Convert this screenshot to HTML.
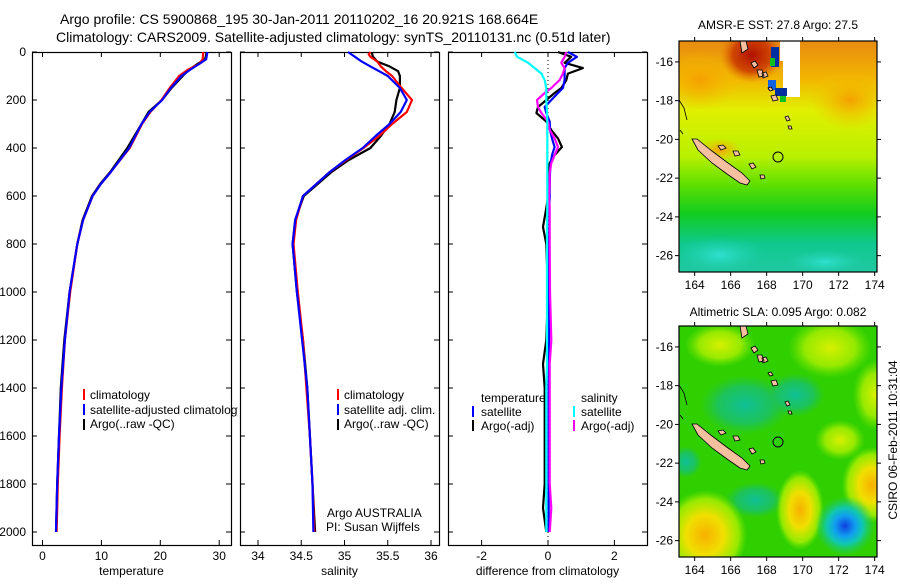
<!DOCTYPE html>
<html><head><meta charset="utf-8">
<style>
html,body{margin:0;padding:0;background:#fff;}
body{width:900px;height:580px;overflow:hidden;font-family:"Liberation Sans",sans-serif;}
svg text{font-family:"Liberation Sans",sans-serif;fill:#000;}
</style></head>
<body>
<svg id="fig" width="900" height="580" viewBox="0 0 900 580" xmlns="http://www.w3.org/2000/svg">
<defs>
<linearGradient id="sstg" x1="0" y1="0" x2="0" y2="1">
<stop offset="0" stop-color="#e88a10"/><stop offset="0.17" stop-color="#f2b800"/><stop offset="0.3" stop-color="#e0f000"/>
<stop offset="0.5" stop-color="#b8f000"/><stop offset="0.62" stop-color="#60e000"/><stop offset="0.75" stop-color="#10cc20"/>
<stop offset="0.88" stop-color="#10c890"/><stop offset="1" stop-color="#20c8a0"/></linearGradient>
<radialGradient id="redblob"><stop offset="0" stop-color="#b01000"/><stop offset="0.6" stop-color="#c83000" stop-opacity="0.8"/><stop offset="1" stop-color="#e07000" stop-opacity="0"/></radialGradient>
<radialGradient id="orblob"><stop offset="0" stop-color="#f5a000"/><stop offset="1" stop-color="#f5c000" stop-opacity="0"/></radialGradient>
<radialGradient id="cyblob"><stop offset="0" stop-color="#30e0d0"/><stop offset="1" stop-color="#20d0b0" stop-opacity="0"/></radialGradient>
<radialGradient id="yelblob"><stop offset="0" stop-color="#f8b000"/><stop offset="0.45" stop-color="#f0e000"/><stop offset="0.8" stop-color="#b0f000" stop-opacity="0.8"/><stop offset="1" stop-color="#80e800" stop-opacity="0"/></radialGradient>
<radialGradient id="ltblob"><stop offset="0" stop-color="#d8f000"/><stop offset="0.6" stop-color="#b0f000" stop-opacity="0.8"/><stop offset="1" stop-color="#80e800" stop-opacity="0"/></radialGradient>
<radialGradient id="tealblob"><stop offset="0" stop-color="#10c098"/><stop offset="0.6" stop-color="#18c070" stop-opacity="0.8"/><stop offset="1" stop-color="#20c050" stop-opacity="0"/></radialGradient>
<radialGradient id="blueblob"><stop offset="0" stop-color="#1040e0"/><stop offset="0.35" stop-color="#10a0f0"/><stop offset="0.6" stop-color="#10c8b0"/><stop offset="1" stop-color="#20c860" stop-opacity="0"/></radialGradient>
<clipPath id="clipTop"><rect x="679" y="41" width="198" height="231"/></clipPath>
<clipPath id="clipBot"><rect x="679" y="326" width="198" height="231"/></clipPath>
<clipPath id="clipLeg1"><rect x="32" y="380" width="206" height="60"/></clipPath>
</defs>

<text x="60" y="24" font-size="14">Argo profile: CS 5900868_195 30-Jan-2011 20110202_16 20.921S 168.664E</text>
<text x="56" y="42" font-size="14">Climatology: CARS2009. Satellite-adjusted climatology: synTS_20110131.nc (0.51d later)</text>

<g id="p1"></g>
<g id="p2"></g>
<g id="p3"></g>

<g font-size="12" clip-path="url(#clipLeg1)">
<rect x="83" y="389" width="2" height="11" fill="#f00"/><text x="90" y="399">climatology</text>
<rect x="83" y="404" width="2" height="11" fill="#00f"/><text x="90" y="414">satellite-adjusted climatology</text>
<rect x="83" y="419" width="2" height="11" fill="#000"/><text x="90" y="428">Argo(..raw -QC)</text>
</g>
<g font-size="12">
<rect x="337" y="389" width="2" height="11" fill="#f00"/><text x="344" y="399">climatology</text>
<rect x="337" y="404" width="2" height="11" fill="#00f"/><text x="344" y="414">satellite adj. clim.</text>
<rect x="337" y="419" width="2" height="11" fill="#000"/><text x="344" y="428">Argo(..raw -QC)</text>
<text x="327" y="517">Argo AUSTRALIA</text>
<text x="326" y="531">PI: Susan Wijffels</text>
</g>
<g font-size="12">
<text x="481" y="402">temperature</text>
<rect x="472" y="406" width="2" height="11" fill="#00f"/><text x="481" y="416">satellite</text>
<rect x="472" y="420" width="2" height="11" fill="#000"/><text x="481" y="430">Argo(-adj)</text>
<text x="581" y="402">salinity</text>
<rect x="573" y="406" width="2" height="11" fill="#0ff"/><text x="581" y="416">satellite</text>
<rect x="573" y="420" width="2" height="11" fill="#f0f"/><text x="581" y="430">Argo(-adj)</text>
</g>

<text x="778" y="29" font-size="12" text-anchor="middle">AMSR-E SST: 27.8 Argo: 27.5</text>
<g clip-path="url(#clipTop)">
<rect x="679" y="41" width="198" height="231" fill="url(#sstg)"/>
<ellipse cx="850" cy="100" rx="40" ry="30" fill="url(#orblob)"/>
<ellipse cx="700" cy="80" rx="40" ry="30" fill="url(#orblob)"/>
<ellipse cx="752" cy="55" rx="32" ry="28" fill="url(#redblob)"/>
<ellipse cx="720" cy="150" rx="22" ry="12" fill="url(#orblob)"/>
<ellipse cx="720" cy="255" rx="45" ry="18" fill="url(#cyblob)"/>
<ellipse cx="825" cy="262" rx="40" ry="12" fill="url(#cyblob)"/>
<rect x="780" y="41" width="20" height="20" fill="#fff"/>
<rect x="783" y="55" width="17" height="42" fill="#fff"/>
<rect x="771" y="47" width="8" height="20" fill="#0030a0"/>
<rect x="770" y="58" width="5" height="8" fill="#10c020"/>
<rect x="768" y="80" width="8" height="10" fill="#1060e0"/>
<rect x="775" y="88" width="12" height="8" fill="#0030a0"/>
<rect x="780" y="96" width="6" height="6" fill="#10c020"/>
</g>
<g clip-path="url(#clipTop)">
<g fill="#f5c0a0" stroke="#000" stroke-width="0.8">
<polygon points="692,139 697,139 712,151 728,163 742,173 750,181 747,185 740,183 727,174 712,163 698,150"/>
<path d="M740,41 l6,0 l2,8 l-6,4 z M751,63 l4,-2 l3,4 l-4,3 z M757,70 l5,0 l2,6 l-5,1 z M762,73 l4,-1 l2,4 l-5,2z M768,88 l3,-1 l2,3 l-3,1z M771,96 l5,-1 l2,5 l-5,1z M718,146 l5,-1 l3,3 l-5,2z M733,151 l5,0 l2,4 l-5,1z M749,164 l4,-1 l3,4 l-4,2z M760,175 l4,0 l1,3 l-4,1z M785,117 l3,-1 l2,4 l-3,1z M788,126 l3,0 l1,3 l-3,0z"/>
<path d="M679,100 l5,8 l3,12 M680,130 l3,4" fill="none"/>
</g>
</g>
<circle cx="778" cy="157" r="5" fill="none" stroke="#000"/>
<g id="m1ax"></g>

<text x="778" y="316" font-size="12" text-anchor="middle">Altimetric SLA: 0.095 Argo: 0.082</text>
<g clip-path="url(#clipBot)">
<rect x="679" y="326" width="198" height="231" fill="#30d000"/>
<ellipse cx="720" cy="345" rx="35" ry="22" fill="url(#ltblob)"/>
<ellipse cx="830" cy="348" rx="42" ry="30" fill="url(#ltblob)"/>
<ellipse cx="875" cy="395" rx="22" ry="35" fill="url(#ltblob)"/>
<ellipse cx="840" cy="440" rx="25" ry="20" fill="url(#ltblob)"/>
<ellipse cx="745" cy="405" rx="45" ry="30" fill="url(#tealblob)"/>
<ellipse cx="795" cy="395" rx="30" ry="22" fill="url(#tealblob)"/>
<ellipse cx="755" cy="500" rx="30" ry="18" fill="url(#tealblob)"/>
<ellipse cx="705" cy="535" rx="42" ry="45" fill="url(#yelblob)"/>
<ellipse cx="800" cy="510" rx="24" ry="40" fill="url(#yelblob)"/>
<ellipse cx="872" cy="485" rx="30" ry="38" fill="url(#yelblob)"/>
<ellipse cx="845" cy="526" rx="30" ry="30" fill="url(#blueblob)"/>
<ellipse cx="686" cy="462" rx="16" ry="16" fill="url(#tealblob)"/>
</g>
<g clip-path="url(#clipBot)">
<g fill="#f5c0a0" stroke="#000" stroke-width="0.8" transform="translate(0,285)">
<polygon points="692,139 697,139 712,151 728,163 742,173 750,181 747,185 740,183 727,174 712,163 698,150"/>
<path d="M740,41 l6,0 l2,8 l-6,4 z M751,63 l4,-2 l3,4 l-4,3 z M757,70 l5,0 l2,6 l-5,1 z M762,73 l4,-1 l2,4 l-5,2z M768,88 l3,-1 l2,3 l-3,1z M771,96 l5,-1 l2,5 l-5,1z M718,146 l5,-1 l3,3 l-5,2z M733,151 l5,0 l2,4 l-5,1z M749,164 l4,-1 l3,4 l-4,2z M760,175 l4,0 l1,3 l-4,1z M785,117 l3,-1 l2,4 l-3,1z M788,126 l3,0 l1,3 l-3,0z"/>
<path d="M679,100 l5,8 l3,12 M680,130 l3,4" fill="none"/>
</g>
</g>
<circle cx="778" cy="442" r="5" fill="none" stroke="#000"/>
<g id="m2ax"></g>

<text transform="translate(897,440) rotate(-90)" font-size="12" text-anchor="middle">CSIRO 06-Feb-2011 10:31:04</text>
</svg>

<script>
const tDepth = [0,30,50,75,100,150,200,250,300,400,500,550,600,700,800,1000,1200,1400,1600,1800,2000];
const tArgo  = [27.9,27.6,26.3,24.8,23.8,21.9,20.3,18.0,16.8,14.4,11.5,9.8,8.4,6.8,5.9,4.6,3.7,3.1,2.8,2.5,2.3];
const tClim  = [27.3,27.2,26.6,24.6,23.2,21.6,20.2,18.3,16.9,14.8,11.6,9.9,8.5,6.9,5.9,4.7,3.8,3.3,2.9,2.6,2.4];
const tSat   = [28.0,27.8,26.6,25.0,23.6,21.8,20.3,18.2,16.8,14.7,11.6,9.9,8.5,6.9,5.9,4.6,3.8,3.2,2.8,2.5,2.3];

const sDepth = [0,10,20,40,60,80,100,150,200,250,300,350,400,450,500,600,700,800,1000,1200,1400,1600,1800,2000];
const sArgo  = [35.32,35.32,35.33,35.38,35.52,35.62,35.64,35.64,35.60,35.58,35.52,35.42,35.30,35.05,34.85,34.53,34.43,34.40,34.45,34.52,34.57,34.60,34.63,34.66];
const sClim  = [35.30,35.28,35.30,35.38,35.42,35.48,35.55,35.66,35.78,35.72,35.55,35.40,35.22,35.02,34.83,34.52,34.44,34.41,34.46,34.52,34.56,34.60,34.63,34.65];
const sSat   = [35.04,35.08,35.12,35.20,35.30,35.40,35.50,35.64,35.72,35.65,35.52,35.36,35.21,35.01,34.83,34.52,34.43,34.40,34.45,34.51,34.57,34.60,34.63,34.64];

const dDepth = [0,20,45,67,90,117,150,171,200,229,254,290,325,360,396,430,463,504,560,604,650,729,800,1000,1200,1300,1400,1600,1800,1900,2000];
const dTArgo = [0.3,0.7,0.5,1.05,0.6,0.55,0.4,0.2,-0.05,-0.3,-0.35,-0.05,0.1,0.3,0.42,0.2,0.05,0.0,0.05,0.0,-0.05,-0.15,-0.05,0.0,-0.05,-0.15,-0.1,-0.1,-0.1,-0.15,-0.05];
const dTSat  = [0.6,0.87,0.6,0.5,0.5,0.5,0.45,0.3,0.1,-0.1,-0.05,0.05,0.06,0.12,0.2,0.12,0.08,0.06,0.05,0.05,0.04,0.04,0.03,0.03,0.03,0.03,0.02,0.02,0.02,0.02,0.02];
const dSArgo = [0.55,0.5,0.4,0.5,0.45,0.35,0.1,-0.1,-0.33,-0.3,-0.2,0.0,0.05,0.2,0.3,0.2,0.1,0.05,0.05,0.03,0.05,0.05,0.05,0.06,0.1,0.05,0.05,0.05,0.05,0.1,0.05];
const dSSat  = [-1.0,-0.93,-0.6,-0.4,-0.2,-0.1,-0.05,-0.05,-0.05,-0.04,-0.03,-0.02,-0.02,-0.02,-0.02,-0.02,-0.02,-0.02,-0.02,-0.02,-0.02,-0.03,-0.03,-0.03,-0.03,-0.03,-0.05,-0.05,-0.05,-0.05,-0.05];

const depthTicks = [0,200,400,600,800,1000,1200,1400,1600,1800,2000];
const tTicks = [0,10,20,30];
const sTicks = [34,34.5,35,35.5,36];
const dTicks = [-2,0,2];
const latTicks = [-16,-18,-20,-22,-24,-26];
const lonTicks = [164,166,168,170,172,174];

const NS = 'http://www.w3.org/2000/svg';
function mk(tag, attrs, parent){ const e=document.createElementNS(NS,tag); for(const k in attrs) e.setAttribute(k,attrs[k]); parent.appendChild(e); return e; }
const yD = d => 52 + d*0.24;
const Y0=52, Y1=545;

function panel(g, x0, x1, xs, ticks, label, showY, labelFmt){
  const r = mk('rect',{x:x0+0.5,y:Y0+0.5,width:x1-x0,height:Y1-Y0,fill:'none',stroke:'#000','stroke-width':1.2},g);
  
  
  depthTicks.forEach(d=>{
    const y=yD(d);
    mk('line',{x1:x0,x2:x0+5,y1:y,y2:y,stroke:'#000'},g);
    mk('line',{x1:x1-5,x2:x1,y1:y,y2:y,stroke:'#000'},g);
    if(showY){ const t=mk('text',{x:x0-6,y:y+4,'font-size':12,'text-anchor':'end'},g); t.textContent=d;
      
       }
  });
  ticks.forEach(v=>{
    const x=xs(v);
    mk('line',{x1:x,x2:x,y1:Y0,y2:Y0+5,stroke:'#000'},g);
    mk('line',{x1:x,x2:x,y1:Y1-5,y2:Y1,stroke:'#000'},g);
    const t=mk('text',{x:x,y:Y1+15,'font-size':12,'text-anchor':'middle'},g); t.textContent=labelFmt(v);
    
    
  });
  const lt=mk('text',{x:(x0+x1)/2,y:575,'font-size':12,'text-anchor':'middle'},g); lt.textContent=label;
  
  
}
function line(g, depths, vals, xs, color, name){
  const p = depths.map((d,i)=>xs(vals[i]).toFixed(1)+','+yD(d).toFixed(1)).join(' ');
  const e=mk('polyline',{points:p,fill:'none',stroke:color,'stroke-width':2.2,'stroke-linejoin':'round'},g);
  
  
}

const xT = v => 42.5 + v*5.89;
const xS = v => 258 + (v-34)*86.5;
const xDf = v => 548 + v*33.2;

const p1=document.getElementById('p1'), p2=document.getElementById('p2'), p3=document.getElementById('p3');
panel(p1,32,231,xT,tTicks,'temperature',true,v=>v);
line(p1,tDepth,tArgo,xT,'#000','temperature-argo-line');
line(p1,tDepth,tClim,xT,'#f00','temperature-climatology-line');
line(p1,tDepth,tSat,xT,'#00f','temperature-satellite-line');

panel(p2,240,439,xS,sTicks,'salinity',false,v=>v);
line(p2,sDepth,sArgo,xS,'#000','salinity-argo-line');
line(p2,sDepth,sClim,xS,'#f00','salinity-climatology-line');
line(p2,sDepth,sSat,xS,'#00f','salinity-satellite-line');

panel(p3,448,647,xDf,dTicks,'difference from climatology',false,v=>v);
const zl=mk('line',{x1:xDf(0),x2:xDf(0),y1:Y0,y2:Y1,stroke:'#000','stroke-dasharray':'1,3'},p3);


line(p3,dDepth,dTArgo,xDf,'#000','temp-diff-argo-line');
line(p3,dDepth,dTSat,xDf,'#00f','temp-diff-satellite-line');
line(p3,dDepth,dSArgo,xDf,'#f0f','sal-diff-argo-line');
line(p3,dDepth,dSSat,xDf,'#0ff','sal-diff-satellite-line');

function mapAxes(g, top){
  const x0=679,x1=877,y0=top,y1=top+231;
  const lon = v => 679 + (v-163.13)*18;
  const lat = v => y0 + (-14.92 - v)*19.37;
  mk('rect',{x:x0,y:y0,width:x1-x0,height:y1-y0,fill:'none',stroke:'#000','stroke-width':1.2},g);
  latTicks.forEach(v=>{ const y=lat(v);
    mk('line',{x1:x0-4,x2:x0,y1:y,y2:y,stroke:'#000'},g);
    mk('line',{x1:x1,x2:x1+4,y1:y,y2:y,stroke:'#000'},g);
    const t=mk('text',{x:x0-6,y:y+4,'font-size':12,'text-anchor':'end'},g); t.textContent=v;
    
    
  });
  lonTicks.forEach(v=>{ const x=lon(v);
    mk('line',{x1:x,x2:x,y1:y0-4,y2:y0,stroke:'#000'},g);
    mk('line',{x1:x,x2:x,y1:y1,y2:y1+4,stroke:'#000'},g);
    const t=mk('text',{x:x,y:y1+17,'font-size':12,'text-anchor':'middle'},g); t.textContent=v;
    
    
  });
}
mapAxes(document.getElementById('m1ax'),41);
mapAxes(document.getElementById('m2ax'),326);
</script>
</body></html>
